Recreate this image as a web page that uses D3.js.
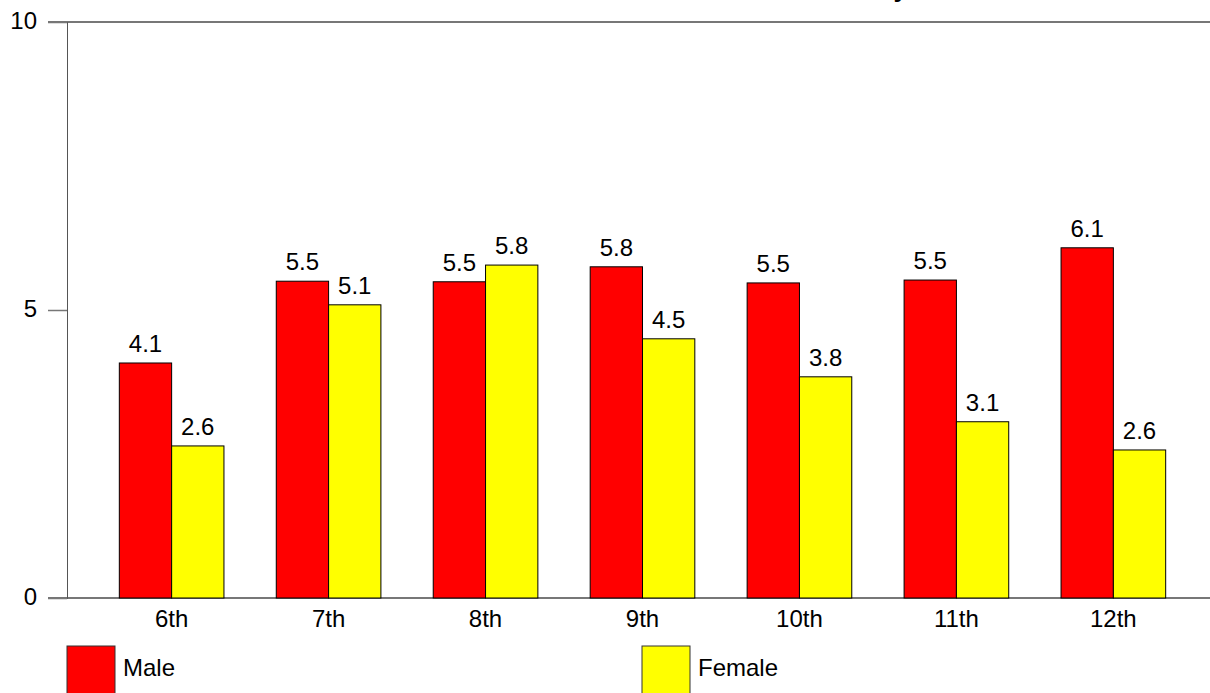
<!DOCTYPE html>
<html>
<head>
<meta charset="utf-8">
<script src="https://cdn.jsdelivr.net/npm/d3@7"></script>
<style>
    body { margin: 0; background: #fff; }
    text { font-family: "Liberation Sans", Arial, sans-serif; }
</style>
</head>
<body>
<div id="root"></div>
<script>
const w = 1210;
const h = 693;
const margin = {
    top: 22, bottom: 95, left: 67, right: -8
};

const grades = ["6th", "7th", "8th", "9th", "10th", "11th", "12th"];
const keys = ["Male", "Female"];
const colors = ["#ff0000", "#ffff00"];
const male = [4.08, 5.50, 5.49, 5.75, 5.47, 5.52, 6.08];
const female = [2.64, 5.09, 5.78, 4.50, 3.84, 3.06, 2.57];
const yTicks = [0, 5, 10];

const data = grades.map((g, i) => ({grade: g, values: [male[i], female[i]]}));

const xScale = d3.scaleBand()
    .domain(grades)
    .range([margin.left, w - margin.right])
    .paddingInner(1/3)
    .paddingOuter(1/3);

const xSub = d3.scaleBand()
    .domain(keys)
    .range([0, xScale.bandwidth()]);

const yScale = d3.scaleLinear()
    .domain([0, 10])
    .range([h - margin.bottom, margin.top]);

const svg = d3.select("#root")
    .append("svg")
    .attr("width", w)
    .attr("height", h);

// title, almost all of it sits above the page
svg.append("text")
    .attr("x", 908)
    .attr("y", -3)
    .attr("text-anchor", "end")
    .style("font-size", "26px")
    .style("font-weight", "bold")
    .text("Percent of Students Who Smoked Daily");

// frame lines at 0 and 10
svg.selectAll(".hline")
    .data([0, 10])
    .enter()
    .append("line")
    .attr("x1", 48)
    .attr("x2", w)
    .attr("y1", d => yScale(d))
    .attr("y2", d => yScale(d))
    .attr("stroke", "#777")
    .attr("stroke-width", 2);

// y-axis
const yAxis = d3.axisLeft(yScale)
    .tickValues(yTicks)
    .tickSize(19)
    .tickPadding(11);
const yG = svg.append("g")
    .attr("transform", "translate(" + margin.left + ", 0)")
    .call(yAxis);
yG.select(".domain").attr("stroke", "#555");
yG.selectAll(".tick line").attr("stroke", "#777").attr("stroke-width", 1.5);
yG.selectAll(".tick text")
    .attr("fill", "#000")
    .style("font-size", "24px")
    .attr("dy", "0.28em")
    .style("font-family", "'Liberation Sans', Arial, sans-serif");

// x-axis labels
const xAxis = d3.axisBottom(xScale).tickSize(0).tickPadding(12);
const xG = svg.append("g")
    .attr("transform", "translate(0, " + (h - margin.bottom) + ")")
    .call(xAxis);
xG.select(".domain").remove();
xG.selectAll(".tick text")
    .attr("fill", "#000")
    .style("font-size", "24px")
    .style("font-family", "'Liberation Sans', Arial, sans-serif");

// bars
const groups = svg.selectAll(".group")
    .data(data)
    .enter()
    .append("g")
    .attr("transform", d => "translate(" + xScale(d.grade) + ", 0)");

groups.selectAll("rect")
    .data(d => d.values.map((v, i) => ({key: keys[i], value: v})))
    .enter()
    .append("rect")
    .attr("x", d => xSub(d.key))
    .attr("y", d => yScale(d.value))
    .attr("width", xSub.bandwidth())
    .attr("height", d => yScale(0) - yScale(d.value))
    .attr("fill", (d, i) => colors[i])
    .attr("stroke", "#000")
    .attr("stroke-width", 1);

groups.selectAll(".val")
    .data(d => d.values.map((v, i) => ({key: keys[i], value: v})))
    .enter()
    .append("text")
    .attr("x", d => xSub(d.key) + xSub.bandwidth() / 2)
    .attr("y", d => yScale(d.value) - 11)
    .attr("text-anchor", "middle")
    .style("font-size", "24px")
    .text(d => d.value.toFixed(1));

// legend
const legendX = [67, 642];
const legend = svg.append("g");
legend.selectAll("rect")
    .data(keys)
    .enter()
    .append("rect")
    .attr("x", (d, i) => legendX[i])
    .attr("y", 646)
    .attr("width", 48)
    .attr("height", 48)
    .attr("fill", (d, i) => colors[i])
    .attr("stroke", "#333")
    .attr("stroke-width", 1);
legend.selectAll("text")
    .data(keys)
    .enter()
    .append("text")
    .attr("x", (d, i) => legendX[i] + 56)
    .attr("y", 676)
    .style("font-size", "24px")
    .text(d => d);
</script>
</body>
</html>
